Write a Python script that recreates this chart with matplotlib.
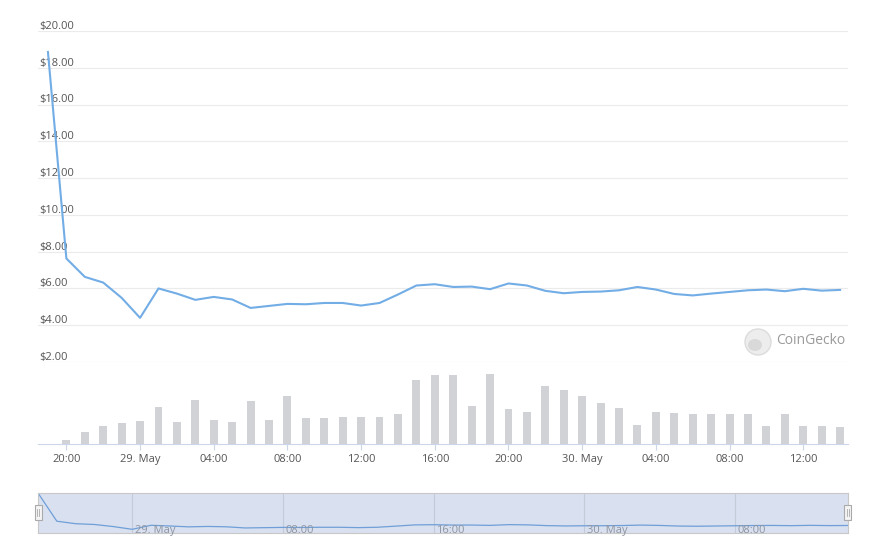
import matplotlib.pyplot as plt
import matplotlib.transforms as mtransforms
from matplotlib.patches import Rectangle, Ellipse
import numpy as np

plt.rcParams['font.family'] = ['Open Sans', 'DejaVu Sans']

# hourly points, 28 May 19:00 -> 30 May 14:00
hours = np.arange(44)
price = [18.86, 7.63, 6.63, 6.32, 5.49,
         4.40, 6.00, 5.72, 5.38, 5.54, 5.40, 4.94, 5.05, 5.16, 5.14, 5.21, 5.21,
         5.07, 5.21, 5.67, 6.16, 6.23, 6.08, 6.10, 5.96, 6.27, 6.16, 5.87, 5.74,
         5.81, 5.83, 5.90, 6.08, 5.94, 5.70, 5.62, 5.72, 5.81, 5.90, 5.94, 5.85,
         5.98, 5.88, 5.92]
volume = [0, 4, 12, 18, 21,
          23, 37, 22, 44, 24, 22, 43, 24, 48, 26, 26, 27,
          27, 27, 30, 64, 69, 69, 38, 70, 35, 32, 58, 54,
          48, 41, 36, 19, 32, 31, 30, 30, 30, 30, 18, 30,
          18, 18, 17]

price_ticks = [2, 4, 6, 8, 10, 12, 14, 16, 18, 20]
tick_hours = [1, 5, 9, 13, 17, 21, 25, 29, 33, 37, 41]
tick_labels = ['20:00', '29. May', '04:00', '08:00', '12:00', '16:00',
               '20:00', '30. May', '04:00', '08:00', '12:00']
nav_hours = [5, 13, 21, 29, 37]
nav_labels = ['29. May', '08:00', '16:00', '30. May', '08:00']

W, H = 870, 550


def box(x0, y0, x1, y1):
    return [x0 / W, 1 - y1 / H, (x1 - x0) / W, (y1 - y0) / H]


fig = plt.figure(figsize=(8.7, 5.5), dpi=100)
fig.patch.set_facecolor('white')

# price pane
ax = fig.add_axes(box(38, 31, 848, 362))
ax.set_facecolor('none')
ax.set_xlim(-0.54, 43.43)
ax.set_ylim(2, 20)
for p in price_ticks:
    ax.axhline(p, color='#ebebeb', lw=0.8, zorder=1)
trans = mtransforms.blended_transform_factory(ax.transAxes, ax.transData)
for p in price_ticks:
    ax.text(0.001, p - 0.05, f'${p:.2f}', transform=trans, ha='left', va='bottom',
            fontsize=8, color='#555555', zorder=2)
ax.plot(hours, price, color='#72ade6', lw=1.5, zorder=3)
ax.set_xticks([])
ax.set_yticks([])
for s in ax.spines.values():
    s.set_visible(False)

# logo
fig.add_artist(Ellipse((758 / W, 1 - 342 / H), 26 / W, 26 / H, transform=fig.transFigure,
                       facecolor='#ededed', edgecolor='#dcdcdc', lw=1))
fig.add_artist(Ellipse((755 / W, 1 - 345 / H), 14 / W, 12 / H, transform=fig.transFigure,
                       facecolor='#d9d9d9', edgecolor='none'))
fig.text(776 / W, 1 - 341 / H, 'CoinGecko', fontsize=10, color='#9a9a9a',
         ha='left', va='center')

# volume pane
axv = fig.add_axes(box(38, 362, 848, 444))
axv.set_facecolor('none')
axv.bar(hours, volume, width=0.43, color='#d1d2d6', zorder=2)
axv.set_xlim(-0.54, 43.43)
axv.set_ylim(0, 82)
axv.set_yticks([])
axv.set_xticks(tick_hours)
axv.set_xticklabels(tick_labels)
axv.tick_params(axis='x', length=4, color='#ccd6eb', labelsize=8,
                labelcolor='#555555', pad=3)
for k in ['left', 'right', 'top']:
    axv.spines[k].set_visible(False)
axv.spines['bottom'].set_color('#ccd6eb')

# navigator
axn = fig.add_axes(box(38, 493, 848, 533))
axn.set_facecolor('#d9e0ef')
axn.set_xlim(0, 43)
axn.set_ylim(2.93, 18.86)
for h, lab in zip(nav_hours, nav_labels):
    axn.axvline(h, color='#c3cad8', lw=0.8)
    axn.text(h + 0.15, 4.1, lab, fontsize=8, color='#8f95a0', ha='left', va='center')
axn.plot(hours, price, color='#6f9fd8', lw=0.9)
axn.set_xticks([])
axn.set_yticks([])
for s in axn.spines.values():
    s.set_color('#c8c8c8')
    s.set_linewidth(0.8)

# navigator handles
for hx in [38, 848]:
    fig.add_artist(Rectangle(((hx - 3.5) / W, 1 - 520 / H), 7 / W, 15 / H,
                             transform=fig.transFigure, facecolor='#f4f4f4',
                             edgecolor='#aaaaaa', lw=0.8))
    for dx in (-1, 1):
        fig.add_artist(plt.Line2D([(hx + dx) / W] * 2, [1 - 516 / H, 1 - 509 / H],
                                  transform=fig.transFigure, color='#aaaaaa', lw=0.6))

fig.savefig('out.png', dpi=100)
